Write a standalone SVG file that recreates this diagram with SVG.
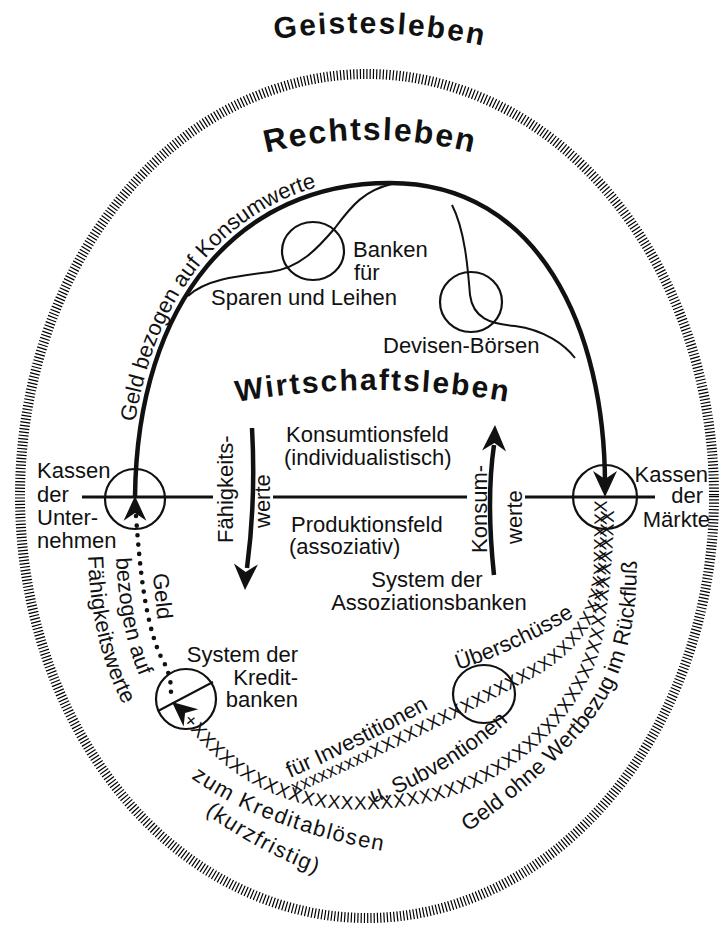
<svg xmlns="http://www.w3.org/2000/svg" width="720" height="928" viewBox="0 0 720 928">
<style>
.t{font-family:"Liberation Sans",Arial,sans-serif;font-size:22px;fill:#111}
.title{font-family:"Liberation Sans",Arial,sans-serif;font-weight:bold;fill:#111}
.thick{fill:none;stroke:#111;stroke-width:4.5}
.thin{fill:none;stroke:#111;stroke-width:2}
.node{fill:none;stroke:#111;stroke-width:2.2}
.xs{font-family:"Liberation Sans",Arial,sans-serif;fill:#111}
.hatch{fill:none;stroke:#000;stroke-width:10;stroke-dasharray:1.2 2.1}
</style>
<defs>
<path id="head" d="M0,0 L-26,-12 L-18,0 L-26,12 Z" fill="#111"/>
<path id="p-geist" d="M153.8,69.6 A600,600 0 0,1 603.1,84.4"/>
<path id="p-recht" d="M190.8,179.7 A424,424 0 0,1 549.2,179.7"/>
<path id="p-wirt" d="M170.6,416.7 A782,782 0 0,1 575.4,416.7"/>
<path id="p-geldkonsum" d="M129,497 C131,296 237,177 390,177"/>
<path id="p-geld1" d="M153,574 Q155,600 159,632"/>
<path id="p-geld2" d="M116,558 C118,600 125,645 142,682"/>
<path id="p-geld3" d="M88,556 C90,620 105,680 134,722"/>
<path id="p-chainA" d="M292,788 C380,750 470,705 540,667 C580,640 597,610 600,570 L601,505"/>
<path id="p-chainB" d="M188,716 C212,745 240,778 298,795 C338,807 420,807 480,777 C540,745 590,690 598,622 C604,575 607,540 607,505"/>
<path id="p-invest" d="M290,778 Q370,743 447,698"/>
<path id="p-ueber" d="M458,670 Q520,650 578,614"/>
<path id="p-subv" d="M373,803 Q450,776 517,714"/>
<path id="p-rueck" d="M468,832 C522,794 578,744 603,704 C623,672 633,632 636,592 L638,530"/>
<path id="p-kredit" d="M191,778 Q266,831 394,853"/>
<path id="p-kurz" d="M205,813 Q259,853 330,879"/>
</defs>
<rect width="720" height="928" fill="#fff"/>

<g id="geistesleben">
<ellipse class="hatch" cx="367" cy="496" rx="347" ry="422"/>
<text class="title" font-size="30" letter-spacing="2"><textPath href="#p-geist" startOffset="50%" text-anchor="middle">Geistesleben</textPath></text>
</g>

<g id="rechtsleben">
<text class="title" font-size="32" letter-spacing="1.8"><textPath href="#p-recht" startOffset="50%" text-anchor="middle">Rechtsleben</textPath></text>
</g>

<g id="wirtschaftsleben">
<text class="title" font-size="30" letter-spacing="2"><textPath href="#p-wirt" startOffset="50%" text-anchor="middle">Wirtschaftsleben</textPath></text>
</g>

<g id="connectors">
<path class="thick" d="M135,497 C137,300 240,183 390,183 C540,183 605,330 605,485"/>
<use href="#head" transform="translate(605,497) rotate(90)"/>
<path class="thin" d="M188,296 C205,280 235,276 270,272 C300,268 318,248 335,228 C352,205 365,190 392,184"/>
<path class="thin" d="M452,205 C465,230 468,270 470,295 C473,318 490,324 515,326 C545,330 565,345 575,358"/>
<path d="M82,497 L213,497 M273,497 L467,497 M525,497 L655,497" fill="none" stroke="#111" stroke-width="3"/>
<path class="thick" d="M252,428 Q256,500 247,568"/>
<use href="#head" transform="translate(245,590) rotate(92)"/>
<path class="thick" d="M494,575 Q486,500 494,445"/>
<use href="#head" transform="translate(495,425) rotate(-88)"/>
<path d="M136,516 C140,570 145,620 160,655 C172,675 172,690 170,700" fill="none" stroke="#111" stroke-width="4.6" stroke-linecap="round" stroke-dasharray="0 9.5"/>
<use href="#head" transform="translate(135,496) rotate(-90) scale(0.95)"/>
<use href="#head" transform="translate(172,702) rotate(-140) scale(0.95)"/>
<text class="xs" font-size="18" dominant-baseline="central" letter-spacing="0.6"><textPath href="#p-chainA">xxxxxxxxxXXXXXXXXXXXXXXXXXXXXXXXXXXXXXXXXXXX</textPath></text>
<text class="xs" font-size="19" dominant-baseline="central" letter-spacing="0.4"><textPath href="#p-chainB">+XXXXXXXXXXXXXXXXXXXXXXXXXXXXXXXXXXXXXXXXXXXXXXXXX</textPath></text>
</g>

<g id="geld-konsumwerte">
<text class="t"><textPath href="#p-geldkonsum" startOffset="75">Geld bezogen auf Konsumwerte</textPath></text>
</g>

<g id="banken-sparen">
<ellipse class="node" cx="313" cy="251" rx="31" ry="29"/>
<text class="t" x="353" y="257">Banken</text>
<text class="t" x="354" y="280">für</text>
<text class="t" x="211" y="305">Sparen und Leihen</text>
</g>

<g id="devisen-boersen">
<ellipse class="node" cx="471" cy="302" rx="31" ry="30"/>
<text class="t" x="383" y="353">Devisen-Börsen</text>
</g>

<g id="kassen-unternehmen">
<circle class="node" cx="135" cy="499" r="30"/>
<text class="t" font-size="21" x="37" y="478">Kassen</text>
<text class="t" font-size="21" x="37" y="502">der</text>
<text class="t" font-size="21" x="37" y="525">Unter-</text>
<text class="t" font-size="21" x="37" y="548">nehmen</text>
</g>

<g id="kassen-maerkte">
<circle class="node" cx="605" cy="497" r="32"/>
<text class="t" font-size="21" x="708" y="482" text-anchor="end">Kassen</text>
<text class="t" font-size="21" x="703" y="503" text-anchor="end">der</text>
<text class="t" font-size="21" x="710" y="527" text-anchor="end">Märkte</text>
</g>

<g id="faehigkeitswerte">
<text class="t" transform="translate(233,543) rotate(-90)">Fähigkeits-</text>
<text class="t" transform="translate(270,528) rotate(-90)">werte</text>
</g>

<g id="konsumwerte">
<text class="t" transform="translate(487,553) rotate(-90)">Konsum-</text>
<text class="t" transform="translate(522,544) rotate(-90)">werte</text>
</g>

<g id="konsumtionsfeld">
<text class="t" x="286" y="442">Konsumtionsfeld</text>
<text class="t" x="284" y="465">(individualistisch)</text>
</g>

<g id="produktionsfeld">
<text class="t" x="291" y="532">Produktionsfeld</text>
<text class="t" x="289" y="554">(assoziativ)</text>
</g>

<g id="assoziationsbanken">
<text class="t" x="427" y="587" text-anchor="middle">System der</text>
<text class="t" x="429" y="610" text-anchor="middle">Assoziationsbanken</text>
</g>

<g id="geld-faehigkeitswerte">
<text class="t"><textPath href="#p-geld1">Geld</textPath></text>
<text class="t"><textPath href="#p-geld2">bezogen auf</textPath></text>
<text class="t"><textPath href="#p-geld3">Fähigkeitswerte</textPath></text>
</g>

<g id="kreditbanken">
<circle class="node" cx="186" cy="699" r="30"/>
<path class="thin" d="M158,711 L213,682"/>
<text class="t" x="298" y="662" text-anchor="end">System der</text>
<text class="t" x="298" y="685" text-anchor="end">Kredit-</text>
<text class="t" x="298" y="707" text-anchor="end">banken</text>
</g>

<g id="ueberschuesse">
<ellipse class="node" cx="484" cy="694" rx="31" ry="29"/>
<text class="t"><textPath href="#p-ueber">Überschüsse</textPath></text>
</g>

<g id="chain-labels">
<text class="t"><textPath href="#p-invest">für Investitionen</textPath></text>
<text class="t"><textPath href="#p-subv">u. Subventionen</textPath></text>
<text class="t"><textPath href="#p-rueck">Geld ohne Wertbezug im Rückfluß</textPath></text>
<text class="t" letter-spacing="1.5"><textPath href="#p-kredit">zum Kreditablösen</textPath></text>
<text class="t" letter-spacing="1.5"><textPath href="#p-kurz">(kurzfristig)</textPath></text>
</g>
</svg>
